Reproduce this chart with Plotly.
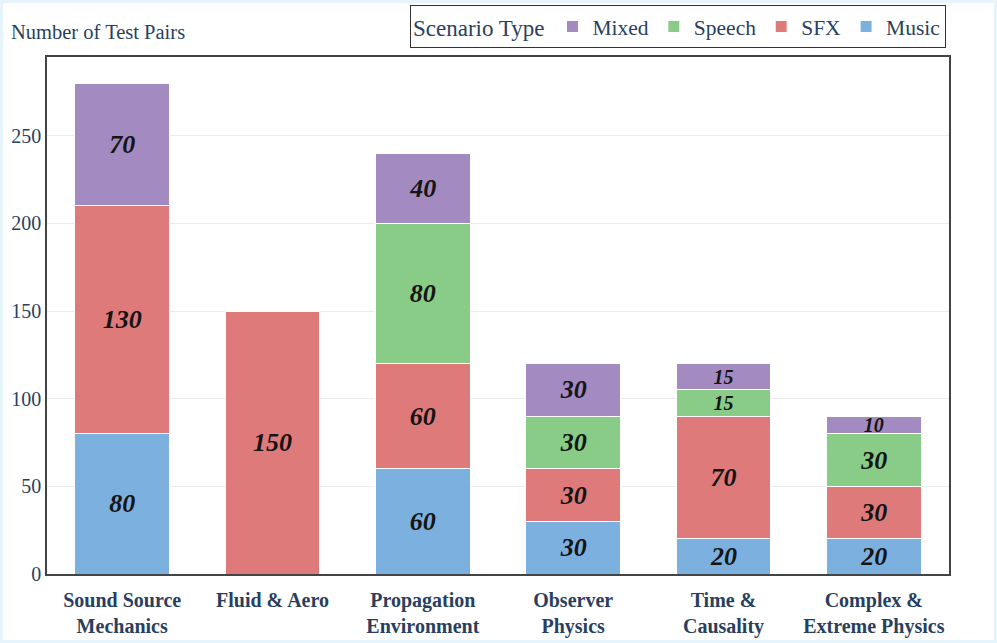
import plotly.graph_objects as go

categories = ["Sound Source<br>Mechanics", "Fluid & Aero", "Propagation<br>Environment",
              "Observer<br>Physics", "Time &<br>Causality", "Complex &<br>Extreme Physics"]
music = [80, 0, 60, 30, 20, 20]
sfx = [130, 150, 60, 30, 70, 30]
speech = [0, 0, 80, 30, 15, 30]
mixed = [70, 0, 40, 30, 15, 10]

series = [("Music", music, "#7cb0df"), ("SFX", sfx, "#df7a7a"),
          ("Speech", speech, "#88cc88"), ("Mixed", mixed, "#a38ac0")]

FONT = "Liberation Serif, Times New Roman, serif"
W, H = 997, 643
L, R, T, B = 47, 48, 57, 69
pw, ph = W - L - R, H - T - B

fig = go.Figure()
for name, vals, col in series:
    txt = [str(v) if v else "" for v in vals]
    sizes = [26 if v >= 20 else 20 for v in vals]
    fig.add_trace(go.Bar(
        x=categories, y=[v if v else None for v in vals], name=name,
        marker=dict(color=col, line=dict(color="white", width=1)),
        text=txt, textposition="inside", insidetextanchor="middle", textangle=0,
        textfont=dict(family=FONT, size=sizes, color="#151515", weight="bold", style="italic"),
        constraintext="none",
    ))

fig.update_layout(
    width=W, height=H, barmode="stack", bargap=0.37,
    margin=dict(l=L, r=R, t=T, b=B, autoexpand=False),
    paper_bgcolor="white", plot_bgcolor="white",
    font=dict(family=FONT, color="#2a3f5f", size=20),
    legend=dict(orientation="h", x=946 / W, xanchor="right", xref="container",
                y=1 - 5 / H, yanchor="top", yref="container",
                traceorder="reversed", bordercolor="#333333", borderwidth=1,
                font=dict(size=21.5), title=dict(text="Scenario Type", font=dict(size=23)),
                itemwidth=30),
    xaxis=dict(showline=True, linecolor="#444444", linewidth=1.5, mirror=True,
               automargin=False, ticks="outside", ticklen=7, tickcolor="rgba(0,0,0,0)",
               tickfont=dict(size=20, weight="bold", color="#2a3f5f")),
    yaxis=dict(showline=True, linecolor="#444444", linewidth=1.5, mirror=True,
               automargin=False,
               gridcolor="#ececec", tickfont=dict(size=20), zeroline=False,
               range=[0, 295], dtick=50),
    annotations=[dict(text="Number of Test Pairs", xref="paper", yref="paper",
                      x=-(L - 9) / pw, y=1 + 25 / ph, xanchor="left", yanchor="middle",
                      showarrow=False, font=dict(size=20.5, color="#2a3f5f"))],
    shapes=[dict(type="rect", xref="paper", yref="paper", layer="below",
                 x0=-(L - 1.5) / pw, x1=1 + (R - 1.5) / pw,
                 y0=-(B - 1.5) / ph, y1=1 + (T - 1.5) / ph,
                 line=dict(color="#e6f4fb", width=3))],
)

fig.write_html("out.html", config={"displayModeBar": False},
               post_script="document.body.style.margin='0px';")
